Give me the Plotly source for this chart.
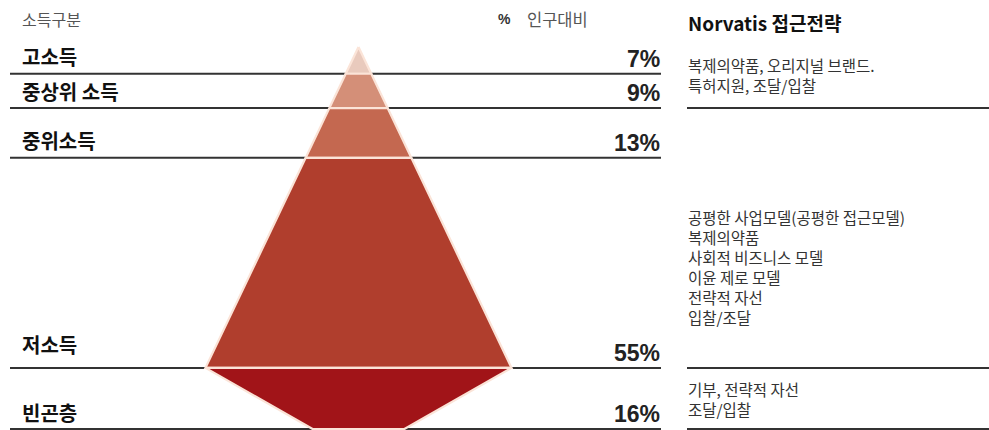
import plotly.graph_objects as go

# Income segments, top of the pyramid first
segments = ["고소득", "중상위 소득", "중위소득", "저소득", "빈곤층"]
shares = [7, 9, 13, 55, 16]          # % of population
share_labels = [f"{v}%" for v in shares]

# Novartis access strategy per segment group (first segment index, last segment index, lines)
strategy_groups = [
    (0, 1, ["복제의약품, 오리지널 브랜드.", "특허지원, 조달/입찰"]),
    (2, 3, ["공평한 사업모델(공평한 접근모델)", "복제의약품", "사회적 비즈니스 모델",
            "이윤 제로 모델", "전략적 자선", "입찰/조달"]),
    (4, 4, ["기부, 전략적 자선", "조달/입찰"]),
]

band_colors = ["#e9cabd", "#d48f78", "#c46850", "#b03e2d", "#a11418"]

# ---- layout constants (canvas in pixels, y axis in cumulative % units) ----
W, H = 989, 430
TOP_PX = 47            # apex
PX_PER_PCT = 3.82
CX = 358.5             # pyramid centre
HALF_BASE = 153        # half width at the base of the triangle
TAPER = 0.30           # bottom band narrows to this fraction of the base
KR = "Noto Sans CJK KR"
NUM = "Liberation Sans, Arial, sans-serif"


def y_of(px):
    return (px - TOP_PX) / PX_PER_PCT


bounds = [0]
for v in shares:
    bounds.append(bounds[-1] + v)
tri_depth = bounds[4]   # triangle part ends where the poorest band begins

fig = go.Figure()

# pyramid bands
for i, (name, v) in enumerate(zip(segments, shares)):
    y0, y1 = bounds[i], bounds[i + 1]
    if i < 4:
        h0 = HALF_BASE * y0 / tri_depth
        h1 = HALF_BASE * y1 / tri_depth
    else:
        h0 = HALF_BASE
        h1 = HALF_BASE * TAPER
    xs = [CX - h0, CX + h0, CX + h1, CX - h1, CX - h0]
    ys = [y0, y0, y1, y1, y0]
    fig.add_trace(go.Scatter(
        x=xs, y=ys, mode="lines", fill="toself",
        fillcolor=band_colors[i],
        line=dict(color="#fbe4d8", width=2.2),
        name=name, hoverinfo="skip", showlegend=False,
    ))

shapes = []
# left rules under every band
for b in bounds[1:]:
    shapes.append(dict(type="line", xref="x", yref="y", x0=10, x1=661, y0=b, y1=b,
                       line=dict(color="#333333", width=2), layer="below"))
# right rules closing each strategy group
for first, last, _ in strategy_groups:
    b = bounds[last + 1]
    shapes.append(dict(type="line", xref="x", yref="y", x0=687, x1=W, y0=b, y1=b,
                       line=dict(color="#333333", width=2), layer="below"))

annotations = []


def text(x, ypx, s, size, color, family=KR, xanchor="left"):
    annotations.append(dict(x=x, y=y_of(ypx), xref="x", yref="y", text=s,
                            showarrow=False, xanchor=xanchor, yanchor="middle",
                            align="left", font=dict(family=family, size=size, color=color)))


# headers
text(20, 19, "소득구분", 16, "#555555")
text(496, 19, "<b>%</b>", 14, "#333333", family=NUM)
text(525, 19, "인구대비", 16.5, "#555555")
text(686, 22, "<b>Norvatis 접근전략</b>", 19, "#111111")

# segment names and shares
px_of = lambda b: TOP_PX + b * PX_PER_PCT
name_lift = {3: 23}
for i, (name, lab) in enumerate(zip(segments, share_labels)):
    base_px = px_of(bounds[i + 1])
    text(20, base_px - name_lift.get(i, 17), f"<b>{name}</b>", 20, "#111111")
    text(662, base_px - 15, f"<b>{lab}</b>", 23, "#222222", family=NUM, xanchor="right")

# strategy text blocks, one line per text
block_first_px = [65, 217, 389]
LINE_STEP = 20
for (first, last, lines), y0px in zip(strategy_groups, block_first_px):
    for k, line in enumerate(lines):
        text(686, y0px + k * LINE_STEP, line, 15.5, "#333333")

fig.update_layout(
    width=W, height=H,
    margin=dict(l=0, r=0, t=0, b=0),
    paper_bgcolor="white", plot_bgcolor="white",
    xaxis=dict(range=[0, W], visible=False, fixedrange=True),
    yaxis=dict(range=[y_of(H), y_of(0)], visible=False, fixedrange=True),
    shapes=shapes, annotations=annotations,
    showlegend=False,
)

fig.write_html("out.html")
